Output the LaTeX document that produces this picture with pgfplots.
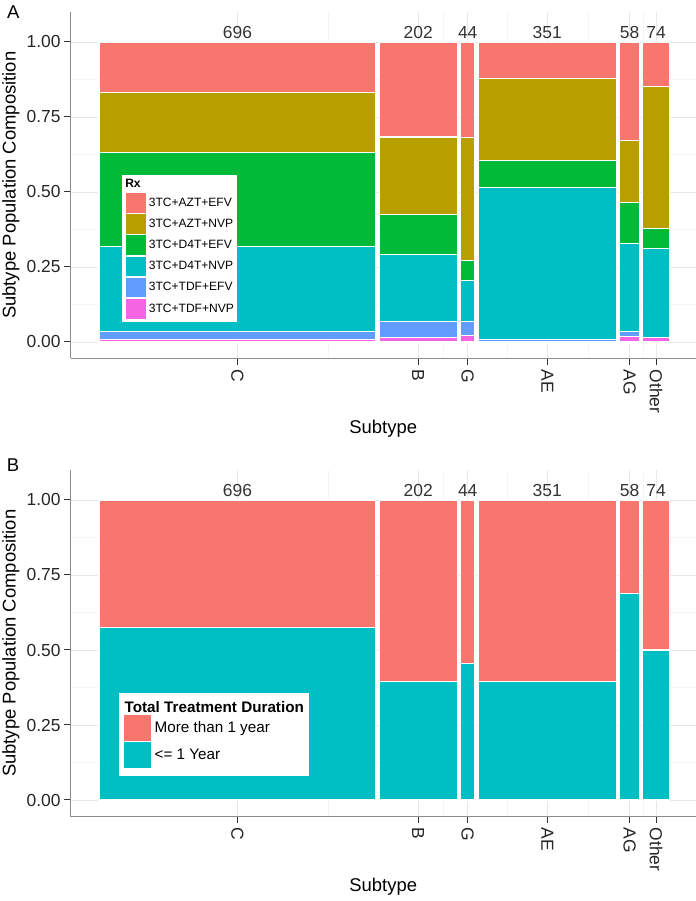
\documentclass[border=0pt]{standalone}
\usepackage{fontspec}
\setmainfont{Liberation Sans}
\usepackage{pgfplots}
\usepackage{pgfplotstable}
\pgfplotsset{compat=1.18}

\definecolor{cA}{HTML}{F8766D}
\definecolor{cB}{HTML}{B79F00}
\definecolor{cC}{HTML}{00BA38}
\definecolor{cD}{HTML}{00BFC4}
\definecolor{cE}{HTML}{619CFF}
\definecolor{cF}{HTML}{F564E3}

% Panel A: counts per subtype (columns placed at cumulative counts, 8-unit gaps)
% e1=3TC+AZT+EFV e2=3TC+AZT+NVP e3=3TC+D4T+EFV e4=3TC+D4T+NVP e5=3TC+TDF+EFV e6=3TC+TDF+NVP
\pgfplotstableread{
x    n   e1  e2  e3  e4  e5 e6
0    696 118 138 218 198 18 6
688  1   0   0   0   0   0  0
696  202 64  52  27  45  11 3
890  1   0   0   0   0   0  0
898  44  14  18  3   6   2  1
934  1   0   0   0   0   0  0
942  351 43  96  31  178 3  0
1285 1   0   0   0   0   0  0
1293 58  19  12  8   17  1  1
1343 1   0   0   0   0   0  0
1351 74  11  35  5   22  0  1
1417 1   0   0   0   0   0  0
}\tabA

% Panel B: more than 1 year / <= 1 year
\pgfplotstableread{
x    n   more less
0    696 296  400
688  1   0    0
696  202 122  80
890  1   0    0
898  44  24   20
934  1   0    0
942  351 212  139
1285 1   0    0
1293 58  18   40
1343 1   0    0
1351 74  37   37
1417 1   0    0
}\tabB

\tikzset{cnt/.style={font=\fontsize{17.5}{20}\selectfont, text=black!80, inner sep=0pt}}

\pgfplotsset{
  mosaic/.style={
    scale only axis, width=625.5bp, height=346.5bp,
    xmin=-70.7, xmax=1483, ymin=-0.055, ymax=1.10,
    axis x line*=bottom, axis y line*=left,
    axis line style={black!45, line width=0.9bp},
    tick align=outside, major tick length=6.5bp, minor tick length=0pt,
    tick style={black!80, line width=1bp},
    xtick={344,793,916,1113.5,1318,1384},
    xticklabels={C,B,G,AE,AG,Other},
    minor xtick={568.5,854.5,1014.75,1215.75,1351},
    ytick={0,0.25,0.5,0.75,1},
    yticklabels={0.00,0.25,0.50,0.75,1.00},
    minor ytick={0.125,0.375,0.625,0.875},
    grid=both,
    major grid style={black!9, line width=0.8bp},
    minor grid style={black!4, line width=0.6bp},
    tick label style={font=\fontsize{17.5}{20}\selectfont, text=black!85, inner sep=3.3bp},
    xticklabel style={rotate=-90, anchor=west, inner sep=4.5bp},
    label style={font=\fontsize{18.5}{22}\selectfont},
    xlabel={Subtype}, ylabel={Subtype Population Composition},
    xlabel style={at={(axis description cs:0.5,-0.2035)}, anchor=center},
    ylabel style={at={(axis description cs:-0.0954,0.5)}, anchor=center},
    legend cell align=left,
  },
}

\begin{document}
\begin{tikzpicture}
\useasboundingbox (0bp,0bp) rectangle (696bp,901bp);

% ---------------- Panel A ----------------
\begin{axis}[mosaic, at={(70.5bp,542.5bp)}, anchor=south west,
  legend image code/.code={\path[#1, line width=0.5bp] (0bp,-10.35bp) rectangle (20.7bp,10.35bp);},
  legend style={at={(axis description cs:0.0819,0.5296)}, anchor=north west,
    draw=none, fill=white, inner sep=3.3bp, outer sep=0pt, row sep=0pt,
    column sep=2.6bp, nodes={inner sep=0pt}, font=\fontsize{12.1}{14}\selectfont},
]
\addlegendimage{legend image code/.code={\node[anchor=west, inner sep=0pt, text width=20.7bp,
  text height=9.5bp, text depth=4.2bp, font=\bfseries\fontsize{12.1}{14}\selectfont] at (0bp,0bp) {Rx};}}
\addlegendentry{\mbox{}}
\addplot[ybar interval, fill=cA, draw=white, line width=1.1bp] table[x=x,
  y expr={(\thisrow{e1}+\thisrow{e2}+\thisrow{e3}+\thisrow{e4}+\thisrow{e5}+\thisrow{e6})/\thisrow{n}}] {\tabA};
\addlegendentry{3TC+AZT+EFV}
\addplot[ybar interval, fill=cB, draw=white, line width=1.1bp] table[x=x,
  y expr={(\thisrow{e2}+\thisrow{e3}+\thisrow{e4}+\thisrow{e5}+\thisrow{e6})/\thisrow{n}}] {\tabA};
\addlegendentry{3TC+AZT+NVP}
\addplot[ybar interval, fill=cC, draw=white, line width=1.1bp] table[x=x,
  y expr={(\thisrow{e3}+\thisrow{e4}+\thisrow{e5}+\thisrow{e6})/\thisrow{n}}] {\tabA};
\addlegendentry{3TC+D4T+EFV}
\addplot[ybar interval, fill=cD, draw=white, line width=1.1bp] table[x=x,
  y expr={(\thisrow{e4}+\thisrow{e5}+\thisrow{e6})/\thisrow{n}}] {\tabA};
\addlegendentry{3TC+D4T+NVP}
\addplot[ybar interval, fill=cE, draw=white, line width=1.1bp] table[x=x,
  y expr={(\thisrow{e5}+\thisrow{e6})/\thisrow{n}}] {\tabA};
\addlegendentry{3TC+TDF+EFV}
\addplot[ybar interval, fill=cF, draw=white, line width=1.1bp] table[x=x,
  y expr={\thisrow{e6}/\thisrow{n}}] {\tabA};
\addlegendentry{3TC+TDF+NVP}
\node[cnt] at (axis cs:344,1.031) {696};
\node[cnt] at (axis cs:793,1.031) {202};
\node[cnt] at (axis cs:916,1.031) {44};
\node[cnt] at (axis cs:1113.5,1.031) {351};
\node[cnt] at (axis cs:1318,1.031) {58};
\node[cnt] at (axis cs:1384,1.031) {74};
\end{axis}
\node[font=\fontsize{18.6}{22}\selectfont, inner sep=0pt] at (13.3bp,889.3bp) {A};

% ---------------- Panel B ----------------
\begin{axis}[mosaic, at={(70.5bp,84.5bp)}, anchor=south west,
  legend image code/.code={\path[#1, line width=0.5bp] (0bp,-13.5bp) rectangle (28.3bp,13.5bp);},
  legend style={at={(axis description cs:0.0783,0.3564)}, anchor=north west,
    draw=none, fill=white, inner xsep=3.4bp, inner ysep=7.6bp, outer sep=0pt, row sep=0pt,
    column sep=3bp, nodes={inner sep=0pt}, font=\fontsize{15.3}{18}\selectfont},
]
\addlegendimage{empty legend}
\addlegendentry{\hspace*{-30bp}\rule[-4.3bp]{0pt}{15.8bp}\textbf{Total Treatment Duration}\hspace*{2bp}}
\addplot[ybar interval, fill=cA, draw=white, line width=1.1bp] table[x=x,
  y expr={(\thisrow{more}+\thisrow{less})/\thisrow{n}}] {\tabB};
\addlegendentry{More than 1 year}
\addplot[ybar interval, fill=cD, draw=white, line width=1.1bp] table[x=x,
  y expr={\thisrow{less}/\thisrow{n}}] {\tabB};
\addlegendentry{<= 1 Year}
\node[cnt] at (axis cs:344,1.031) {696};
\node[cnt] at (axis cs:793,1.031) {202};
\node[cnt] at (axis cs:916,1.031) {44};
\node[cnt] at (axis cs:1113.5,1.031) {351};
\node[cnt] at (axis cs:1318,1.031) {58};
\node[cnt] at (axis cs:1384,1.031) {74};
\end{axis}
\node[font=\fontsize{18.6}{22}\selectfont, inner sep=0pt] at (13bp,436bp) {B};
\end{tikzpicture}
\end{document}
